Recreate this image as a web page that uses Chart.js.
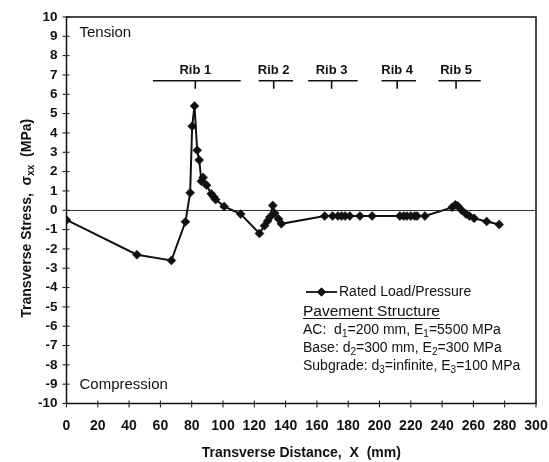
<!DOCTYPE html>
<html>
<head>
<meta charset="utf-8">
<script src="https://cdn.jsdelivr.net/npm/chart.js@4.4.1/dist/chart.umd.min.js"></script>
<style>
  html, body { margin: 0; background: #fff; }
  #wrap { width: 549px; height: 462px; }
</style>
</head>
<body>
<div id="wrap"><canvas id="chart" width="549" height="462"></canvas></div>
<script>
// transverse distance (mm) and stress (MPa)
const distance = [0, 45, 67, 76, 79, 80.3, 81.8, 83.5, 84.8, 86.2, 87.3, 89.5, 92.5, 94, 95.3, 100.7, 111.3,
  123.3, 126.5, 128.5, 130, 131.8, 133, 135.5, 137.3,
  165, 170, 173.5, 175.8, 178, 181, 187.5, 195.3,
  213, 215.5, 217.5, 220, 222.5, 224, 229,
  246.5, 248.5, 250, 252.5, 255.3, 257.5, 260.5, 268.5, 276.5];
const stress = [-0.5, -2.3, -2.6, -0.6, 0.9, 4.35, 5.4, 3.1, 2.6, 1.5, 1.7, 1.3, 0.85, 0.7, 0.55, 0.2, -0.2,
  -1.2, -0.8, -0.55, -0.35, 0.25, -0.15, -0.45, -0.7,
  -0.3, -0.3, -0.3, -0.3, -0.3, -0.3, -0.3, -0.3,
  -0.3, -0.3, -0.3, -0.3, -0.3, -0.3, -0.3,
  0.15, 0.28, 0.22, 0.0, -0.2, -0.3, -0.42, -0.58, -0.74];

const ribNames = ["Rib 1", "Rib 2", "Rib 3", "Rib 4", "Rib 5"];
const ribStart = [55.2, 122.8, 154.4, 201.3, 237.6];
const ribEnd = [111.3, 144.8, 186, 223.3, 264.7];
const ribCenter = [82.3, 132.4, 169.4, 211.3, 248.9];
const ribLevel = 6.7;
const ribLabelLevel = 7.25;

const seriesLabel = "Rated Load/Pressure";
const structureTitle = "Pavement Structure";
// [text, isSubscript]
const structureLines = [
  [["AC:  d", 0], ["1", 1], ["=200 mm, E", 0], ["1", 1], ["=5500 MPa", 0]],
  [["Base: d", 0], ["2", 1], ["=300 mm, E", 0], ["2", 1], ["=300 MPa", 0]],
  [["Subgrade: d", 0], ["3", 1], ["=infinite, E", 0], ["3", 1], ["=100 MPa", 0]],
];
const yTitle = [["Transverse Stress,  \u03c3", 0], ["xx", 1], ["  (MPa)", 0]];
const xTitle = "Transverse Distance,  X  (mm)";

const FONT = '"Liberation Sans", Arial, sans-serif';
const INK = "#111";

function drawRich(ctx, parts, x, y, size, weight, align) {
  const sub = Math.round(size * 0.7);
  let total = 0;
  parts.forEach(([t, s]) => {
    ctx.font = `${weight} ${s ? sub : size}px ${FONT}`;
    total += ctx.measureText(t).width;
  });
  let cx = align === "center" ? x - total / 2 : x;
  ctx.textAlign = "left";
  ctx.textBaseline = "middle";
  parts.forEach(([t, s]) => {
    ctx.font = `${weight} ${s ? sub : size}px ${FONT}`;
    ctx.fillText(t, cx, s ? y + size * 0.3 : y);
    cx += ctx.measureText(t).width;
  });
  return total;
}

const decorations = {
  id: "decorations",
  afterDatasetsDraw(chart) {
    const { ctx, chartArea: a, scales: { x, y } } = chart;
    ctx.save();
    ctx.fillStyle = INK;
    ctx.strokeStyle = INK;

    // frame
    ctx.lineWidth = 1.5;
    ctx.strokeRect(a.left, a.top, a.right - a.left, a.bottom - a.top);

    // ticks crossing the axes
    ctx.lineWidth = 1;
    ctx.beginPath();
    x.ticks.forEach((t) => {
      const px = x.getPixelForValue(t.value);
      ctx.moveTo(px, a.bottom - 3);
      ctx.lineTo(px, a.bottom + 4);
    });
    y.ticks.forEach((t) => {
      const py = y.getPixelForValue(t.value);
      ctx.moveTo(a.left - 4, py);
      ctx.lineTo(a.left + 3, py);
    });
    ctx.stroke();

    // rib markers
    ctx.lineWidth = 1.6;
    ribNames.forEach((name, i) => {
      const x1 = x.getPixelForValue(ribStart[i]);
      const x2 = x.getPixelForValue(ribEnd[i]);
      const xc = x.getPixelForValue(ribCenter[i]);
      const py = y.getPixelForValue(ribLevel);
      ctx.beginPath();
      ctx.moveTo(x1, py);
      ctx.lineTo(x2, py);
      ctx.moveTo(xc, py);
      ctx.lineTo(xc, py + 8);
      ctx.stroke();
      ctx.font = `bold 13px ${FONT}`;
      ctx.textAlign = "center";
      ctx.textBaseline = "middle";
      ctx.fillText(name, xc, y.getPixelForValue(ribLabelLevel));
    });

    // region labels
    ctx.font = `15px ${FONT}`;
    ctx.textAlign = "left";
    ctx.textBaseline = "middle";
    ctx.fillText("Tension", a.left + 13, a.top + 16);
    ctx.fillText("Compression", a.left + 13, a.bottom - 19);

    // legend
    const lx = 306, ly = 292;
    ctx.lineWidth = 1.8;
    ctx.beginPath();
    ctx.moveTo(lx, ly);
    ctx.lineTo(lx + 31, ly);
    ctx.stroke();
    Chart.helpers.drawPoint(ctx, { pointStyle: "rectRot", radius: 4.5, rotation: 0 }, lx + 15.5, ly);
    ctx.fill();
    ctx.font = `14px ${FONT}`;
    ctx.fillText(seriesLabel, lx + 33, ly);

    const w = drawRich(ctx, [[structureTitle, 0]], 303, 311.5, 15.5, "normal", "left");
    ctx.lineWidth = 1;
    ctx.beginPath();
    ctx.moveTo(303, 318.5);
    ctx.lineTo(303 + w, 318.5);
    ctx.stroke();
    structureLines.forEach((parts, i) => drawRich(ctx, parts, 303, 330 + i * 18, 14, "normal", "left"));

    // axis titles
    ctx.font = `bold 14px ${FONT}`;
    ctx.textAlign = "center";
    ctx.textBaseline = "middle";
    ctx.fillText(xTitle, (a.left + a.right) / 2, 453);
    ctx.translate(27, (a.top + a.bottom) / 2 + 8);
    ctx.rotate(-Math.PI / 2);
    drawRich(ctx, yTitle, 0, 0, 14, "bold", "center");
    ctx.restore();
  },
};

new Chart(document.getElementById("chart"), {
  type: "line",
  data: {
    datasets: [{
      label: seriesLabel,
      data: distance.map((d, i) => ({ x: d, y: stress[i] })),
      borderColor: INK,
      backgroundColor: INK,
      borderWidth: 2,
      pointStyle: "rectRot",
      pointRadius: 4.5,
      pointBorderWidth: 0.5,
      tension: 0,
    }],
  },
  options: {
    responsive: false,
    animation: false,
    devicePixelRatio: 1,
    layout: { padding: { left: 0, right: 13, top: 17, bottom: 0 } },
    plugins: { legend: { display: false }, tooltip: { enabled: false } },
    scales: {
      x: {
        type: "linear",
        min: 0,
        max: 300,
        afterFit: (s) => { s.height = 58.5; s.paddingLeft = 0; s.paddingRight = 0; },
        ticks: { stepSize: 20, color: INK, padding: 14, maxRotation: 0, font: { family: FONT, size: 14, weight: "bold" } },
        grid: { display: false, drawTicks: false },
        border: { display: false },
      },
      y: {
        min: -10,
        max: 10,
        afterFit: (s) => { s.width = 66.5; s.paddingTop = 0; s.paddingBottom = 0; },
        ticks: { stepSize: 1, color: INK, padding: 9, font: { family: FONT, size: 13.5, weight: "bold" } },
        grid: {
          drawTicks: false,
          lineWidth: 1,
          color: (c) => (c.tick && c.tick.value === 0 ? "#333" : "rgba(0,0,0,0)"),
        },
        border: { display: false },
      },
    },
  },
  plugins: [decorations],
});
</script>
</body>
</html>
